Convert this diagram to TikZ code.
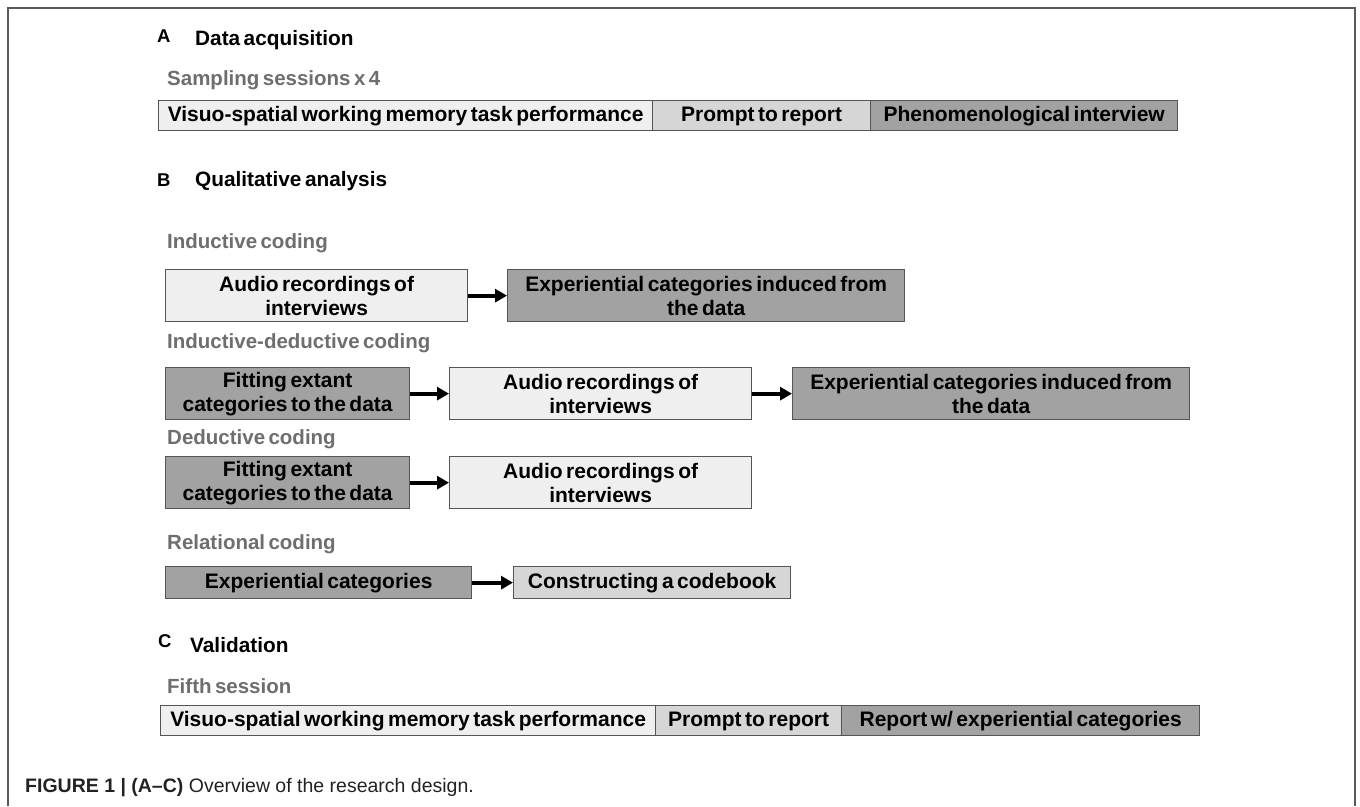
\documentclass[tikz,border=0pt]{standalone}
\usepackage{fontspec}
\setmainfont{Liberation Sans}
\newfontfamily\bxfont{Liberation Sans}[WordSpace=0.6]
\usetikzlibrary{arrows.meta}
\definecolor{lightbox}{HTML}{EFEFEF}
\definecolor{midbox}{HTML}{D6D6D6}
\definecolor{darkbox}{HTML}{A2A2A2}
\definecolor{edge}{HTML}{555555}
\definecolor{labelgray}{HTML}{6E6E6E}
\definecolor{framegray}{HTML}{5A5A5A}
\definecolor{captext}{HTML}{222222}
\tikzset{
  bx/.style={draw=edge, line width=1.3pt, inner sep=0pt, align=center, anchor=north west,
    font=\bxfont\bfseries\fontsize{21}{24}\selectfont},
  oneline/.style={text height=15.5pt, text depth=4.5pt},
  lbox/.style={bx, fill=lightbox},
  mbox/.style={bx, fill=midbox},
  dbox/.style={bx, fill=darkbox},
  head/.style={anchor=base west, inner sep=0pt, font=\bxfont\bfseries\fontsize{20.8}{24}\selectfont},
  letter/.style={anchor=base west, inner sep=0pt, font=\bfseries\fontsize{18.5}{22}\selectfont},
  sub/.style={anchor=base west, inner sep=0pt, text=labelgray, font=\bxfont\bfseries\fontsize{20.5}{24}\selectfont},
  arr/.style={line width=3.8pt, -{Triangle[length=12pt,width=13pt]}},
}
\begin{document}
\begin{tikzpicture}[x=1pt,y=-1pt]
\useasboundingbox (0,0) rectangle (1360,806);
% frame
\draw[framegray, line width=1.8pt] (8,806) -- (8,8) -- (1355,8) -- (1355,806);

% A
\node[letter] (lA) at (157,42) {A};
\node[head] (hA) at (195,45) {Data acquisition};
\node[sub] (sA) at (167,85) {Sampling sessions x 4};
\node[lbox, oneline, minimum width=494pt, minimum height=30pt] (a1) at (158,100) {Visuo-spatial working memory task performance};
\node[mbox, oneline, minimum width=218pt, minimum height=30pt] (a2) at (652,100) {Prompt to report};
\node[dbox, oneline, minimum width=307pt, minimum height=30pt] (a3) at (870,100) {Phenomenological interview};

% B
\node[letter] (lB) at (157,186) {B};
\node[head] (hB) at (195,186) {Qualitative analysis};

\node[sub] (sI) at (167,248) {Inductive coding};
\node[lbox, minimum width=302pt, minimum height=52pt] (i1) at (165,269) {Audio recordings of\\interviews};
\node[dbox, minimum width=397pt, minimum height=52pt] (i2) at (507,269) {Experiential categories induced from\\the data};
\draw[arr] (i1.east) -- (i2.west);

\node[sub] (sID) at (167,348) {Inductive-deductive coding};
\node[dbox, minimum width=244pt, minimum height=52pt] (f1) at (165,367) {Fitting extant\\categories to the data};
\node[lbox, minimum width=302pt, minimum height=52pt] (f2) at (449,367) {Audio recordings of\\interviews};
\node[dbox, minimum width=397pt, minimum height=52pt] (f3) at (792,367) {Experiential categories induced from\\the data};
\draw[arr] (f1.east) -- (f2.west);
\draw[arr] (f2.east) -- (f3.west);

\node[sub] (sD) at (167,444) {Deductive coding};
\node[dbox, minimum width=244pt, minimum height=52pt] (g1) at (165,456) {Fitting extant\\categories to the data};
\node[lbox, minimum width=302pt, minimum height=52pt] (g2) at (449,456) {Audio recordings of\\interviews};
\draw[arr] (g1.east) -- (g2.west);

\node[sub] (sR) at (167,549) {Relational coding};
\node[dbox, oneline, minimum width=306pt, minimum height=32pt] (r1) at (165,566) {Experiential categories};
\node[mbox, oneline, minimum width=277pt, minimum height=32pt] (r2) at (513,566) {Constructing a codebook};
\draw[arr] (r1.east) -- (r2.west);

% C
\node[letter] (lC) at (158,647) {C};
\node[head] (hC) at (190,652) {Validation};
\node[sub] (sC) at (167,693) {Fifth session};
\node[lbox, oneline, minimum width=495pt, minimum height=30pt] (c1) at (160,705) {Visuo-spatial working memory task performance};
\node[mbox, oneline, minimum width=186pt, minimum height=30pt] (c2) at (655,705) {Prompt to report};
\node[dbox, oneline, minimum width=358pt, minimum height=30pt] (c3) at (841,705) {Report w/ experiential categories};

% caption
\node[anchor=base west, inner sep=0pt, text=captext, font=\fontsize{19.5}{22}\selectfont] (cap) at (25,792)
  {\textbf{FIGURE 1 | (A–C)} Overview of the research design.};
\end{tikzpicture}
\end{document}
